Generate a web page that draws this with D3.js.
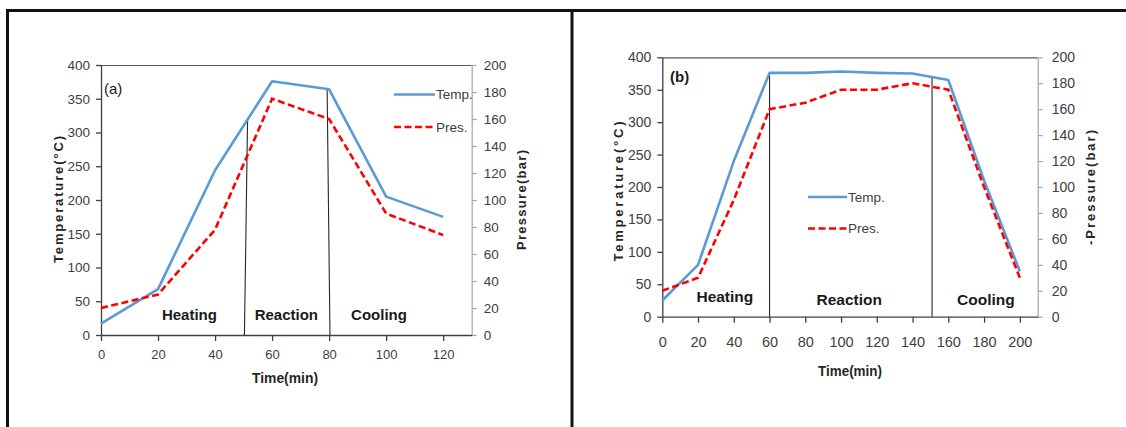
<!DOCTYPE html>
<html><head><meta charset="utf-8">
<script src="https://cdn.jsdelivr.net/npm/d3@7"></script>
<style>
html,body{margin:0;padding:0;background:#fff;}
svg{display:block;font-family:"Liberation Sans Narrow","Arial Narrow","Liberation Sans",sans-serif;}
</style></head><body>
<svg id="chart" width="1126" height="427"></svg>
<script>
// Run (a): temperature (°C) and pressure (bar) against time (min)
const timeA = [0, 20, 40, 60, 80, 100, 120];
const tempA = [17, 68, 244, 376, 364, 205, 175];
const presA = [20, 30, 78, 175, 160, 90, 74];

// Run (b)
const timeB = [0, 20, 40, 60, 80, 100, 120, 140, 160, 180, 200];
const tempB = [25, 80, 240, 376, 376, 378, 376, 375, 365, 210, 70];
const presB = [20, 30, 90, 160, 165, 175, 175, 180, 175, 100, 30];

// Axis ticks
const tempTicks = [0, 50, 100, 150, 200, 250, 300, 350, 400];
const presTicks = [0, 20, 40, 60, 80, 100, 120, 140, 160, 180, 200];
const timeTicksA = [0, 20, 40, 60, 80, 100, 120];
const timeTicksB = [0, 20, 40, 60, 80, 100, 120, 140, 160, 180, 200];

// Phase boundaries: [time at axis, time where the line meets the temperature curve]
const boundsA = [[50.3, 51.4], [80.3, 79.3]];
const boundsB = [[60, 60], [150.9, 150.9]];

// Phase names with their time / temperature anchor
const phaseNames = ["Heating", "Reaction", "Cooling"];
const phaseTimeA = [31, 65, 97.5];
const phaseTempA = [30, 30, 30];
const phaseTimeB = [35, 104.6, 181];
const phaseTempB = [31, 27, 27];

const seriesNames = ["Temp.", "Pres."];

const BLUE = "#5B9BD5", RED = "#FF0000";
const svg = d3.select("#chart");

// outer frame
const frame = svg.append("g").attr("stroke", "#111").attr("stroke-width", 3);
frame.append("line").attr("x1", 6).attr("x2", 1126).attr("y1", 10.5).attr("y2", 10.5);
frame.append("line").attr("x1", 7.5).attr("x2", 7.5).attr("y1", 9).attr("y2", 427);
frame.append("line").attr("x1", 572).attr("x2", 572).attr("y1", 9).attr("y2", 427);

function interp(ts, vs, t) {
  for (let i = 0; i < ts.length - 1; i++) {
    if (t >= ts[i] && t <= ts[i + 1]) {
      const f = (t - ts[i]) / (ts[i + 1] - ts[i]);
      return vs[i] + f * (vs[i + 1] - vs[i]);
    }
  }
  return vs[vs.length - 1];
}

function drawPanel(o) {
  const g = svg.append("g");
  const x = d3.scaleLinear().domain(o.xDomain).range([o.left, o.right]);
  const yT = d3.scaleLinear().domain([0, 400]).range([o.bottom, o.top]);
  const yP = d3.scaleLinear().domain([0, 200]).range([o.bottom, o.top]);

  // top edge of plot area
  g.append("line").attr("x1", o.left).attr("x2", o.right)
    .attr("y1", o.top + 0.5).attr("y2", o.top + 0.5)
    .attr("stroke", "#595959").attr("stroke-width", 1.2);

  // right (pressure) axis
  const gr = g.append("g").attr("transform", `translate(${o.right},0)`)
    .call(d3.axisRight(yP).tickValues(presTicks).tickSize(5).tickSizeOuter(0).tickPadding(o.rPad));
  gr.selectAll("path,line").attr("stroke", "#a6a6a6").attr("stroke-width", 1.2);
  gr.selectAll("text").attr("fill", "#404040").style("font-size", o.yFont + "px");

  // left (temperature) axis
  const gl = g.append("g").attr("transform", `translate(${o.left},0)`)
    .call(d3.axisLeft(yT).tickValues(tempTicks).tickSize(5).tickSizeOuter(0).tickPadding(6));
  gl.selectAll("path,line").attr("stroke", "#404040").attr("stroke-width", 1.3);
  gl.selectAll("text").attr("fill", "#404040").style("font-size", o.yFont + "px");

  // bottom (time) axis
  const gb = g.append("g").attr("transform", `translate(0,${o.bottom})`)
    .call(d3.axisBottom(x).tickValues(o.xTicks).tickSize(6).tickSizeOuter(0).tickPadding(o.xPad));
  gb.selectAll("path,line").attr("stroke", "#404040").attr("stroke-width", 1.3);
  gb.selectAll("text").attr("fill", "#404040").style("font-size", o.xFont + "px");

  // axis titles
  g.append("text").attr("transform", `translate(${o.tTitleX},${o.tTitleY}) rotate(-90)`)
    .attr("text-anchor", "middle").attr("dominant-baseline", "central")
    .attr("font-weight", "bold").attr("font-size", 13).attr("fill", "#262626")
    .attr("textLength", o.tTitleLen).attr("lengthAdjust", "spacing")
    .text("Temperature(°C)");
  g.append("text").attr("transform", `translate(${o.pTitleX},${o.pTitleY}) rotate(-90)`)
    .attr("text-anchor", "middle").attr("dominant-baseline", "central")
    .attr("font-weight", "bold").attr("font-size", 13).attr("fill", "#262626")
    .attr("textLength", o.pTitleLen).attr("lengthAdjust", "spacing")
    .text(o.pTitle);
  g.append("text").attr("x", o.xTitleX).attr("y", o.xTitleY)
    .attr("text-anchor", "middle").attr("dominant-baseline", "central")
    .attr("font-weight", "bold").attr("font-size", 14).attr("fill", "#262626")
    .attr("textLength", o.xTitleLen).attr("lengthAdjust", "spacingAndGlyphs")
    .text("Time(min)");

  // phase boundaries
  o.bounds.forEach(([tb, tt]) => {
    g.append("line")
      .attr("x1", x(tb)).attr("y1", yT(0))
      .attr("x2", x(tt)).attr("y2", yT(interp(o.time, o.temp, tt)))
      .attr("stroke", "#262626").attr("stroke-width", 1.1);
  });

  // phase names
  phaseNames.forEach((nm, i) => {
    g.append("text").attr("x", x(o.phaseTime[i])).attr("y", yT(o.phaseTemp[i]))
      .attr("text-anchor", "middle").attr("dominant-baseline", "central")
      .attr("font-size", o.phaseFont).attr("fill", "#1a1a1a").attr("font-weight", "bold")
      .text(nm);
  });

  // panel tag
  g.append("text").attr("x", o.tagX).attr("y", o.tagY)
    .attr("dominant-baseline", "central").attr("font-size", 15)
    .attr("font-weight", o.tagWeight).attr("fill", "#1a1a1a").text(o.tag);

  const lineT = d3.line().x((d, i) => x(o.time[i])).y(d => yT(d));
  const lineP = d3.line().x((d, i) => x(o.time[i])).y(d => yP(d));

  g.append("path").datum(o.temp).attr("d", lineT)
    .attr("fill", "none").attr("stroke", BLUE).attr("stroke-width", 2.6)
    .attr("stroke-linejoin", "round");
  g.append("path").datum(o.pres).attr("d", lineP)
    .attr("fill", "none").attr("stroke", RED).attr("stroke-width", 2.6)
    .attr("stroke-dasharray", "7,3.5");

  // legend
  const lg = g.append("g").attr("transform", `translate(${o.legX},${o.legY})`);
  [[BLUE, null], [RED, "7,3.5"]].forEach(([c, dash], i) => {
    const yy = i * o.legGap;
    lg.append("line").attr("x1", 0).attr("x2", o.legLen).attr("y1", yy).attr("y2", yy)
      .attr("stroke", c).attr("stroke-width", 2.6).attr("stroke-dasharray", dash);
    lg.append("text").attr("x", o.legLen + 1).attr("y", yy)
      .attr("dominant-baseline", "central").attr("font-size", 13.5).attr("fill", "#404040")
      .text(seriesNames[i]);
  });
}

drawPanel({
  left: 101, right: 471.7, top: 65, bottom: 335, xDomain: [0, 130], xTicks: timeTicksA,
  time: timeA, temp: tempA, pres: presA, bounds: boundsA,
  phaseTime: phaseTimeA, phaseTemp: phaseTempA, phaseFont: 15,
  yFont: 13.5, xFont: 13, rPad: 7, xPad: 9,
  tTitleX: 58.5, tTitleY: 199.5, tTitleLen: 127,
  pTitle: "Pressure(bar)", pTitleX: 521.5, pTitleY: 200, pTitleLen: 100,
  xTitleX: 285, xTitleY: 378, xTitleLen: 66,
  tag: "(a)", tagX: 104, tagY: 88, tagWeight: "normal",
  legX: 394, legY: 94.5, legLen: 41, legGap: 32.5
});

drawPanel({
  left: 662.3, right: 1037.7, top: 57.3, bottom: 316.7, xDomain: [0, 210], xTicks: timeTicksB,
  time: timeB, temp: tempB, pres: presB, bounds: boundsB,
  phaseTime: phaseTimeB, phaseTemp: phaseTempB, phaseFont: 15.5,
  yFont: 14, xFont: 14.5, rPad: 9, xPad: 14,
  tTitleX: 618.3, tTitleY: 191.5, tTitleLen: 140,
  pTitle: "-Pressure(bar)", pTitleX: 1090.7, pTitleY: 187.5, pTitleLen: 115,
  xTitleX: 850, xTitleY: 371, xTitleLen: 64,
  tag: "(b)", tagX: 670, tagY: 76, tagWeight: "bold",
  legX: 808, legY: 197, legLen: 39, legGap: 31.5
});
</script>
</body></html>
